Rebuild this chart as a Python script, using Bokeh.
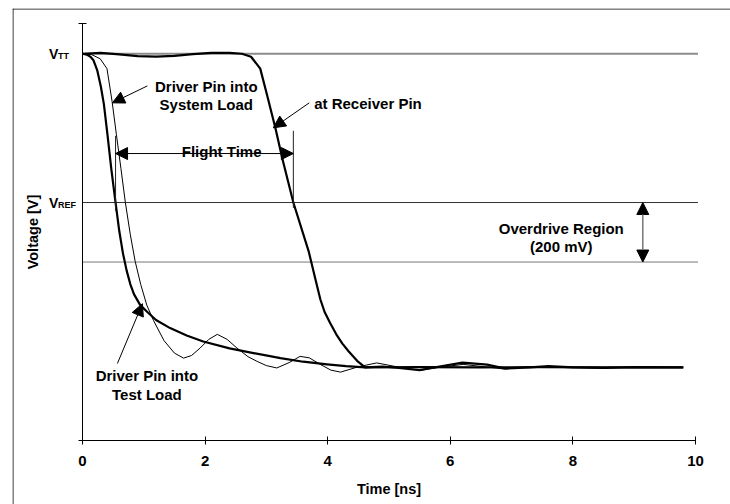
from bokeh.plotting import figure
from bokeh.models import Range1d, FixedTicker, Label, Arrow, NormalHead, Span, LinearAxis
from bokeh.embed import file_html
from bokeh.resources import INLINE

# ---- data (time in ns, voltage in V) ----
t_receiver = [0.0, 0.3, 0.6, 0.9, 1.2, 1.5, 1.8, 2.1, 2.4, 2.6, 2.75, 2.9, 3.01, 3.15, 3.26, 3.44,
              3.69, 3.80, 3.88, 3.95, 4.04, 4.14, 4.24, 4.34, 4.48, 4.61, 4.9, 5.2, 5.5, 5.8, 6.2,
              6.6, 6.9, 7.3, 7.6, 8.0, 8.5, 9.0, 9.8]
v_receiver = [1.500, 1.503, 1.498, 1.492, 1.490, 1.493, 1.499, 1.503, 1.503, 1.500, 1.490, 1.450,
              1.362, 1.248, 1.148, 1.000, 0.836, 0.742, 0.675, 0.632, 0.595, 0.557, 0.526, 0.500,
              0.468, 0.446, 0.449, 0.443, 0.437, 0.448, 0.462, 0.455, 0.442, 0.446, 0.450, 0.446,
              0.444, 0.447, 0.446]

t_test_load = [0.00, 0.07, 0.13, 0.18, 0.24, 0.30, 0.35, 0.41, 0.47, 0.54, 0.60, 0.66, 0.72, 0.78,
               0.84, 0.94, 1.05, 1.20, 1.43, 1.70, 1.97, 2.40, 2.79, 3.23, 3.60, 3.99, 4.30, 4.61,
               5.5, 6.5, 7.5, 8.5, 9.8]
v_test_load = [1.500, 1.497, 1.490, 1.478, 1.445, 1.390, 1.330, 1.225, 1.114, 1.000, 0.905, 0.830,
               0.772, 0.726, 0.692, 0.656, 0.634, 0.605, 0.578, 0.553, 0.533, 0.510, 0.494, 0.477,
               0.465, 0.456, 0.450, 0.446, 0.447, 0.446, 0.447, 0.446, 0.446]

t_system_load = [0.00, 0.15, 0.29, 0.40, 0.484, 0.554, 0.628, 0.70, 0.78, 0.86, 0.95, 1.05, 1.16,
                 1.33, 1.50, 1.65, 1.78, 1.92, 2.06, 2.20, 2.36, 2.52, 2.70, 2.85, 3.00, 3.17,
                 3.37, 3.55, 3.70, 3.88, 4.05, 4.21, 4.50, 4.80, 5.15, 5.51, 5.85, 6.21, 6.55,
                 6.86, 7.30, 7.60, 8.00, 8.50, 9.00, 9.80]
v_system_load = [1.500, 1.497, 1.483, 1.450, 1.339, 1.228, 1.114, 1.000, 0.893, 0.802, 0.725,
                 0.655, 0.603, 0.536, 0.494, 0.477, 0.486, 0.511, 0.540, 0.557, 0.540, 0.511,
                 0.482, 0.466, 0.452, 0.444, 0.462, 0.483, 0.478, 0.456, 0.437, 0.430, 0.448,
                 0.461, 0.447, 0.436, 0.447, 0.456, 0.448, 0.441, 0.447, 0.449, 0.446, 0.444,
                 0.447, 0.446]

V_TT = 1.5
V_REF = 1.0
V_OVERDRIVE = 0.8          # VREF - 200 mV
ref_levels = [V_TT, V_REF, V_OVERDRIVE]
ref_t_end = 10.04
flight_start = 0.54        # test-load VREF crossing
flight_end = 3.44          # receiver VREF crossing
x_ticks = [0, 2, 4, 6, 8, 10]
y_ticks = [0.2, 1.6]

FONT = "Liberation Sans"
PX_PER_NS = 61.35
PX_PER_V = 297.9

p = figure(width=730, height=504, output_backend="svg", toolbar_location=None,
           x_range=Range1d(-70 / PX_PER_NS, 10 + 35 / PX_PER_NS),
           y_range=Range1d(0.2 - 64 / PX_PER_V, 1.6 + 15.5 / PX_PER_V),
           x_axis_location=None, y_axis_location=None,
           min_border_left=12, min_border_right=0, min_border_top=8, min_border_bottom=0,
           background_fill_color="white", border_fill_color="white")
p.outline_line_color = None
p.grid.visible = False

# outer box (top and left edges visible)
p.add_layout(Span(location=p.y_range.end - 0.5 / PX_PER_V, dimension="width",
                  line_color="black", line_width=1))
p.add_layout(Span(location=p.x_range.start + 0.5 / PX_PER_NS, dimension="height",
                  line_color="black", line_width=1))

# axes placed at t = 0 and V = 0.2
xaxis = LinearAxis(fixed_location=0.2, bounds=(0, 10), ticker=FixedTicker(ticks=x_ticks),
                   axis_label="Time [ns]")
yaxis = LinearAxis(fixed_location=0, bounds=(0.2, 1.6), ticker=FixedTicker(ticks=y_ticks),
                   major_label_overrides={0.2: "", 1.6: ""}, axis_label="Voltage [V]")
for ax in (xaxis, yaxis):
    ax.axis_line_color = "black"
    ax.axis_line_width = 1
    ax.major_tick_line_color = "black"
    ax.major_tick_in = 4
    ax.major_tick_out = 4
    ax.minor_tick_line_color = None
    ax.major_label_text_font = FONT
    ax.major_label_text_font_style = "bold"
    ax.major_label_text_font_size = "15px"
    ax.major_label_text_color = "black"
    ax.axis_label_text_font = FONT
    ax.axis_label_text_font_style = "bold"
    ax.axis_label_text_font_size = "14.5px"
    ax.axis_label_text_color = "black"
xaxis.major_label_standoff = 11
xaxis.axis_label_standoff = 12
yaxis.major_label_standoff = 0
yaxis.axis_label_standoff = 38
p.add_layout(xaxis, "below")
p.add_layout(yaxis, "left")

# reference levels
p.segment(x0=[0, 0, 0], y0=ref_levels, x1=[ref_t_end] * 3, y1=ref_levels,
          line_color=["#8c8c8c", "#333333", "#777777"], line_width=[2, 1, 1])

# curves
p.line(t_system_load, v_system_load, line_color="black", line_width=1, line_join="round")
p.line(t_test_load, v_test_load, line_color="black", line_width=2.2, line_join="round")
p.line(t_receiver, v_receiver, line_color="black", line_width=2.2, line_join="round")

def head():
    return NormalHead(size=12, fill_color="black", line_color="black", line_width=1)

# flight time markers
p.segment(x0=[flight_start, flight_end], y0=[0.972, 0.982], x1=[flight_start, flight_end],
          y1=[1.224, 1.241], line_color="#222222", line_width=1)
p.add_layout(Arrow(start=head(), end=head(), x_start=flight_start, y_start=1.1646,
                   x_end=flight_end, y_end=1.1646, line_color="black", line_width=1))

# overdrive arrow
p.add_layout(Arrow(start=head(), end=head(), x_start=9.14, y_start=V_REF,
                   x_end=9.14, y_end=V_OVERDRIVE, line_color="#777777", line_width=1.5))

# pointer arrows
p.add_layout(Arrow(end=head(), x_start=1.06, y_start=1.392, x_end=0.489, y_end=1.335,
                   line_color="black", line_width=1))
p.add_layout(Arrow(end=head(), x_start=3.70, y_start=1.335, x_end=3.113, y_end=1.251,
                   line_color="black", line_width=1))
p.add_layout(Arrow(end=head(), x_start=0.570, y_start=0.459, x_end=0.978, y_end=0.660,
                   line_color="black", line_width=1))

def label(x, y, text, align="center", size="15px", x_offset=0, y_offset=0, baseline="alphabetic"):
    p.add_layout(Label(x=x, y=y, text=text, text_align=align, text_baseline=baseline,
                       text_font=FONT, text_font_style="bold", text_font_size=size,
                       text_color="black", x_offset=x_offset, y_offset=y_offset))

label(2.02, 1.3885, "Driver Pin into")
label(2.02, 1.328, "System Load")
label(3.78, 1.334, "at Receiver Pin", align="left")
label(2.27, 1.1713, "Flight Time")
label(7.81, 0.914, "Overdrive Region")
label(7.81, 0.8524, "(200 mV)")
label(1.051, 0.4184, "Driver Pin into")
label(1.051, 0.3546, "Test Load")

# level names left of the axis
label(-0.546, V_TT, "V", align="left", size="14px", baseline="middle")
label(-0.399, V_TT, "TT", align="left", size="9px", baseline="middle", y_offset=-2)
label(-0.546, V_REF, "V", align="left", size="14px", baseline="middle")
label(-0.399, V_REF, "REF", align="left", size="9px", baseline="middle", y_offset=-2)

open("out.html", "w").write(file_html(p, INLINE))
